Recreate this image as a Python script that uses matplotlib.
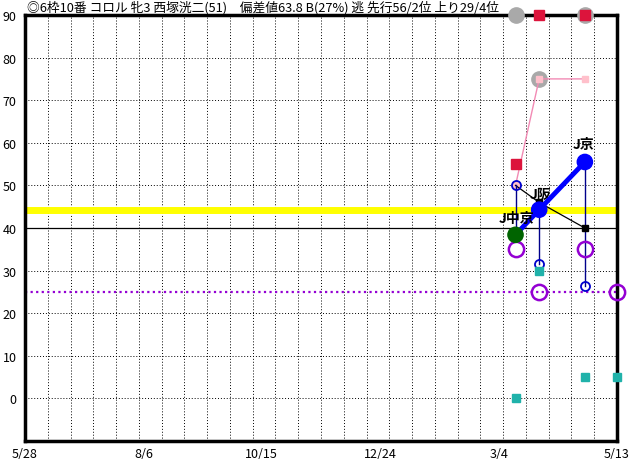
import numpy as np
import matplotlib.pyplot as plt

plt.rcParams['font.family'] = ['Noto Sans CJK JP', 'DejaVu Sans']

# header text and x axis dates
title = '◎6枠10番 コロル 牝3 西塚洸二(51)　偏差値63.8 B(27%) 逃 先行56/2位 上り29/4位'
date_labels = ['5/28', '8/6', '10/15', '12/24', '3/4', '5/13']
date_days = [0, 70, 140, 210, 280, 350]

# races (days after 5/28)
race_days = [290, 304, 331]
race_names = ['J中京', 'J阪', 'J京']
score = [38.4, 44.3, 55.5]
score_colors = ['#006400', '#0000FF', '#0000FF']
score_low = [50, 31.6, 26.5]
black_vals = [50, 46, 40]
pink_vals = [50, 75, 75]
red_vals = [55, 90, 90]
gray_vals = [90, 75, 90]

extra_days = [290, 304, 331, 350]
purple_vals = [35, 25, 35, 25]
teal_vals = [0, 30, 5, 5]

yellow_level = 44.3
black_level = 40
purple_level = 25

fig = plt.figure(figsize=(6.32, 4.6), dpi=100)
ax = fig.add_axes([25/632, 18/460, 592/632, 426/460])
ax.set_xlim(0, 350)
ax.set_ylim(-10, 90)

# grid
for gx in np.linspace(0, 350, 27)[1:-1]:
    ax.axvline(gx, color='black', lw=0.7, ls=(0, (1, 2)), zorder=0)
for gy in range(0, 90, 10):
    if gy != black_level:
        ax.axhline(gy, color='black', lw=0.7, ls=(0, (1, 2)), zorder=0)

ax.axhline(yellow_level, color='#FFFF00', lw=5, zorder=1)
ax.axhline(black_level, color='black', lw=0.9, zorder=1)
ax.axhline(purple_level, color='#9400D3', lw=1.6, ls=(0, (1, 1.5)), zorder=1)

# gray circles and red squares
ax.plot(race_days, gray_vals, 'o', color='#A9A9A9', ms=11, ls='none', clip_on=False, zorder=3)
ax.plot(race_days, red_vals, 's', color='#DC143C', ms=6.5, ls='none', clip_on=False, zorder=4)

# pink line
ax.plot(race_days, pink_vals, '-', color='#F28AB4', lw=1, zorder=3)
ax.plot(race_days, pink_vals, 's', color='#FFC0CB', ms=4, ls='none', zorder=4)

# black line
ax.plot(race_days, black_vals, '-', color='black', lw=0.9, zorder=4)
ax.plot(race_days[1:], black_vals[1:], 's', color='black', ms=4.2, ls='none', zorder=5)

# blue verticals
for d, s, lo in zip(race_days, score, score_low):
    ax.plot([d, d], [s, lo], color='#00008B', lw=1, zorder=4)
ax.plot(race_days, score_low, 'o', mfc='none', mec='#0000CD', mew=1.3, ms=6.5, ls='none', zorder=5)

# teal squares and purple circles
ax.plot(extra_days, teal_vals, 's', color='#20B2AA', ms=6, ls='none', clip_on=False, zorder=5)
ax.plot(extra_days, purple_vals, 'o', mfc='none', mec='#9400D3', mew=1.8, ms=11, ls='none', clip_on=False, zorder=6)

# main score line
ax.plot(race_days, score, '-', color='#0000FF', lw=3.5, zorder=6)
ax.scatter(race_days, score, s=120, c=score_colors, zorder=7)

ax.text(race_days[0] + 0.5, score[0] + 2.2, race_names[0], fontsize=10, fontweight='bold', ha='center', va='bottom', zorder=8)
ax.text(race_days[1] + 1, score[1] + 2.0, race_names[1], fontsize=10, fontweight='bold', ha='center', va='bottom', zorder=5)
ax.text(race_days[2] - 1, score[2] + 2.5, race_names[2], fontsize=10, fontweight='bold', ha='center', va='bottom', zorder=8)

for s in ax.spines.values():
    s.set_linewidth(2.5)

ax.set_xticks(date_days)
ax.set_xticklabels(date_labels, fontsize=9)
ax.set_yticks(range(0, 100, 10))
ax.set_yticklabels([str(v) for v in range(0, 100, 10)], fontsize=9)
ax.tick_params(length=0, pad=4)
ax.tick_params(axis='y', pad=6)

fig.text(27/632, 1 - 8/460, title, fontsize=9.2, ha='left', va='center')

fig.savefig('out.png', dpi=100)
